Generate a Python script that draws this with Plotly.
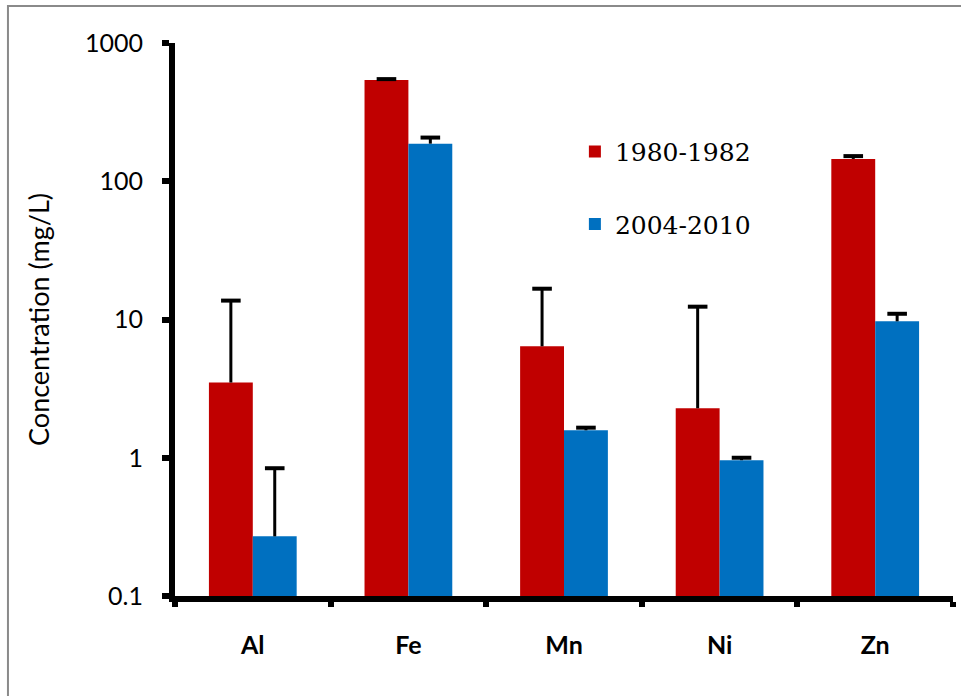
import plotly.graph_objects as go

categories = ["Al", "Fe", "Mn", "Ni", "Zn"]
series_names = ["1980-1982", "2004-2010"]
vals_1980 = [3.5, 540, 6.4, 2.28, 145]
err_1980 = [10.2, 8, 10.3, 10.1, 7]
vals_2004 = [0.27, 187, 1.58, 0.96, 9.7]
err_2004 = [0.57, 20, 0.07, 0.04, 1.3]
ytick_vals = [0.1, 1, 10, 100, 1000]
ytick_text = ["0.1", "1", "10", "100", "1000"]

colors = ["#C00000", "#0070C0"]
bargap = 0.436
half = (1 - bargap) / 4  # centre offset of each bar within its group

fig = go.Figure()
for k, (name, vals, errs) in enumerate(zip(series_names, [vals_1980, vals_2004], [err_1980, err_2004])):
    fig.add_trace(go.Bar(
        x=categories, y=vals, name=name, legendgroup=name,
        marker=dict(color=colors[k], line=dict(width=0)),
        error_y=dict(type="data", symmetric=False, array=errs,
                     arrayminus=[0] * len(errs), width=0, thickness=3, color="black"),
    ))
for k, (vals, errs) in enumerate(zip([vals_1980, vals_2004], [err_1980, err_2004])):
    sign = -1 if k == 0 else 1
    fig.add_trace(go.Scatter(
        x=[i + sign * half for i in range(len(categories))],
        y=[v + e for v, e in zip(vals, errs)],
        xaxis="x2", mode="markers", showlegend=False, hoverinfo="skip",
        marker=dict(symbol="line-ew", size=14, line=dict(width=4, color="black")),
    ))

fig.update_layout(
    width=961, height=696,
    margin=dict(l=175, r=8, t=43, b=100),
    paper_bgcolor="white", plot_bgcolor="white",
    barmode="group", bargap=bargap, bargroupgap=0,
    font=dict(family="Lato", color="black"),
    showlegend=True,
    legend=dict(x=0.514, y=0.845, xanchor="left", yanchor="top",
                traceorder="grouped", tracegroupgap=37,
                font=dict(family="DejaVu Serif", size=25, color="black"),
                bgcolor="rgba(0,0,0,0)"),
    xaxis=dict(type="category", range=[-0.5, 4.5], tickson="boundaries",
               ticks="outside", ticklen=5, tickwidth=6, tickcolor="black",
               showline=True, linewidth=6, linecolor="black", showgrid=False,
               tickfont=dict(family="Lato", size=25, color="black", weight="bold"),
               ticklabelstandoff=22),
    xaxis2=dict(overlaying="x", range=[-0.5, 4.5], visible=False),
    yaxis=dict(type="log", range=[-1, 3], tickvals=ytick_vals, ticktext=ytick_text,
               ticks="outside", ticklen=7, tickwidth=6, tickcolor="black",
               showline=True, linewidth=6, linecolor="black", showgrid=False,
               zeroline=False,
               tickfont=dict(family="Lato", size=25, color="black"),
               ticklabelstandoff=14,
               title=dict(text="Concentration (mg/L)", standoff=30,
                          font=dict(family="Lato", size=27, color="black"))),
    shapes=[dict(type="rect", xref="paper", yref="paper",
                 x0=-0.2147, x1=1.2, y0=-0.3, y1=1.067,
                 line=dict(color="#8a8a8a", width=2), fillcolor="rgba(0,0,0,0)",
                 layer="below")],
)

fig.write_html("out.html")
